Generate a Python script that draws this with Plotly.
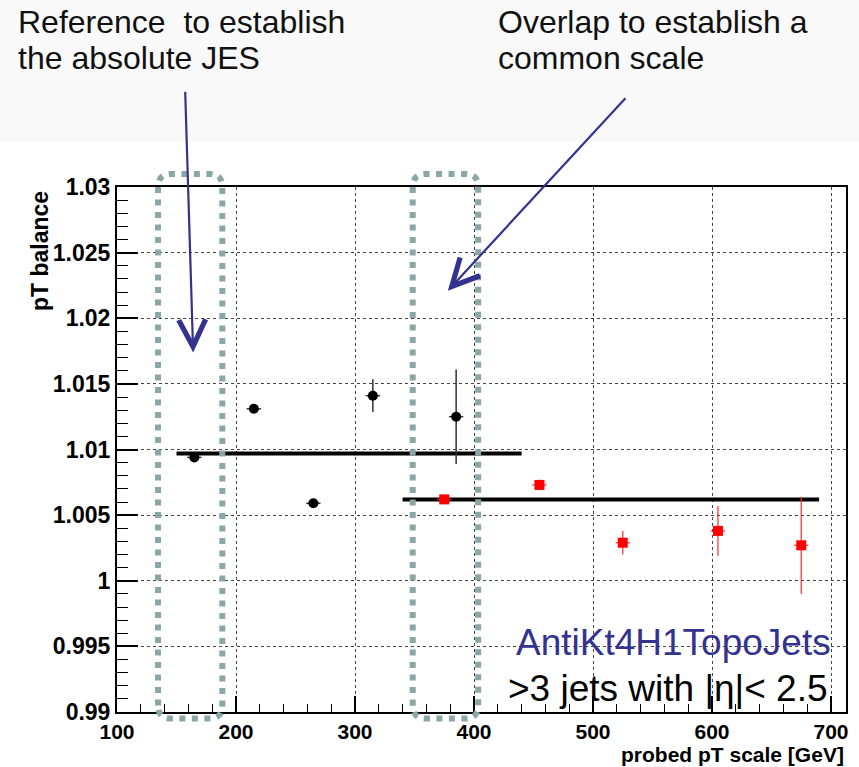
import plotly.graph_objects as go

# ---- data ----
pt_ref = [165, 215, 265, 315, 385]
bal_ref = [1.0094, 1.0131, 1.0059, 1.0141, 1.0125]
err_ref = [0.0002, 0.0002, 0.0003, 0.00125, 0.0036]

pt_ovl = [375, 455, 525, 605, 675]
bal_ovl = [1.0062, 1.0073, 1.0029, 1.0038, 1.0027]
err_ovl = [0.0002, 0.0004, 0.0009, 0.0019, 0.0037]

pt_halfwidth = 6

fit_ref_x = [150, 440]
fit_ref_y = [1.0097, 1.0097]
fit_ovl_x = [340, 690]
fit_ovl_y = [1.0062, 1.0062]

box_ref_x = [134.5, 188.5]
box_ovl_x = [348.5, 403.5]
box_y = [0.9895, 1.031]

y_ticks = [0.99, 0.995, 1.0, 1.005, 1.01, 1.015, 1.02, 1.025, 1.03]
y_ticklabels = ["0.99", "0.995", "1", "1.005", "1.01", "1.015", "1.02", "1.025", "1.03"]
x_ticks = [100, 200, 300, 400, 500, 600, 700]
x_ticklabels = ["100", "200", "300", "400", "500", "600", "700"]

# ---- layout geometry (pixels) ----
W, H = 859, 767
L, R, T, B = 117, 13, 187, 55
PW, PH = W - L - R, H - T - B
XMIN, XMAX = 100, 100 + PW / 1.19
YMIN, YMAX = 0.99, 1.03

def px(p):
    return (p - L) / PW

def py(p):
    return (H - B - p) / PH

def dx(v):  # data x -> paper
    return (v - XMIN) / (XMAX - XMIN)

def dy(v):  # data y -> paper
    return (v - YMIN) / (YMAX - YMIN)

BLUE = "#33338f"
GREY = "#8ba6a6"
FONT = "Liberation Sans"

fig = go.Figure()

fig.add_trace(go.Scatter(
    x=fit_ref_x, y=fit_ref_y, mode="lines",
    line=dict(color="black", width=4), showlegend=False, hoverinfo="skip"))
fig.add_trace(go.Scatter(
    x=fit_ovl_x, y=fit_ovl_y, mode="lines",
    line=dict(color="black", width=4), showlegend=False, hoverinfo="skip"))

fig.add_trace(go.Scatter(
    x=pt_ref, y=bal_ref, mode="markers",
    marker=dict(symbol="circle", size=10, color="black"),
    error_y=dict(type="data", array=err_ref, color="#333333", thickness=1.5, width=0),
    error_x=dict(type="constant", value=pt_halfwidth, color="#333333", thickness=1.5, width=0),
    showlegend=False))
fig.add_trace(go.Scatter(
    x=pt_ovl, y=bal_ovl, mode="markers",
    marker=dict(symbol="square", size=10, color="#ff0000"),
    error_y=dict(type="data", array=err_ovl, color="rgba(255,40,40,0.8)", thickness=1.5, width=0),
    error_x=dict(type="constant", value=pt_halfwidth, color="rgba(255,40,40,0.8)", thickness=1.5, width=0),
    showlegend=False))

# rounded dotted boxes (paper coordinates so they are not clipped)
def rounded_path(x0, x1, y0, y1, rx, ry):
    return (f"M {x0},{y0+ry} L {x0},{y1-ry} Q {x0},{y1} {x0+rx},{y1} "
            f"L {x1-rx},{y1} Q {x1},{y1} {x1},{y1-ry} L {x1},{y0+ry} "
            f"Q {x1},{y0} {x1-rx},{y0} L {x0+rx},{y0} Q {x0},{y0} {x0},{y0+ry} Z")

shapes = [
    dict(type="rect", xref="paper", yref="paper", x0=px(0), x1=px(W), y0=py(141), y1=py(0),
         fillcolor="#f9f9f9", line=dict(width=0), layer="below"),
]
for bx in (box_ref_x, box_ovl_x):
    shapes.append(dict(type="path", xref="paper", yref="paper",
                       path=rounded_path(dx(bx[0]), dx(bx[1]), dy(box_y[0]), dy(box_y[1]),
                                         13 / PW, 13 / PH),
                       line=dict(color=GREY, width=6, dash="6px,6.5px"), layer="above"))

annotations = [
    dict(xref="paper", yref="paper", x=px(16), y=py(22), xanchor="left", yanchor="middle",
         text="Reference\u00a0 to establish", showarrow=False, font=dict(family=FONT, size=32, color="#111111")),
    dict(xref="paper", yref="paper", x=px(16), y=py(58), xanchor="left", yanchor="middle",
         text="the absolute JES", showarrow=False, font=dict(family=FONT, size=32, color="#111111")),
    dict(xref="paper", yref="paper", x=px(496), y=py(22), xanchor="left", yanchor="middle",
         text="Overlap to establish a", showarrow=False, font=dict(family=FONT, size=32, color="#111111")),
    dict(xref="paper", yref="paper", x=px(496), y=py(58), xanchor="left", yanchor="middle",
         text="common scale", showarrow=False, font=dict(family=FONT, size=32, color="#111111")),
    # arrows
    dict(xref="x", yref="y", x=164, y=1.0174, ax=-8, ay=-262, text="", showarrow=True,
         arrowhead=5, arrowsize=2.4, arrowwidth=2.2, arrowcolor=BLUE, standoff=0),
    dict(xref="x", yref="y", x=378, y=1.0221, ax=179, ay=-194, text="", showarrow=True,
         arrowhead=5, arrowsize=2.4, arrowwidth=2.2, arrowcolor=BLUE, standoff=0),
    # labels bottom right
    dict(xref="paper", yref="paper", x=px(833), y=py(642), xanchor="right", yanchor="middle",
         text="AntiKt4H1TopoJets", showarrow=False, font=dict(family=FONT, size=37, color=BLUE)),
    dict(xref="paper", yref="paper", x=px(830), y=py(688), xanchor="right", yanchor="middle",
         text=">3 jets with |\u03b7|< 2.5", showarrow=False, font=dict(family=FONT, size=37, color="black")),
    # axis titles
    dict(xref="paper", yref="paper", x=px(845), y=py(754), xanchor="right", yanchor="middle",
         text="<b>probed pT scale [GeV]</b>", showarrow=False, borderpad=0,
         font=dict(family=FONT, size=21, color="black")),
    dict(xref="paper", yref="paper", x=px(40), y=py(189), xanchor="center", yanchor="top",
         text="<b>pT balance</b>", textangle=-90, showarrow=False, font=dict(family=FONT, size=23, color="black")),
]

fig.update_layout(
    width=W, height=H,
    margin=dict(l=L, r=R, t=T, b=B, pad=0),
    paper_bgcolor="white", plot_bgcolor="white",
    shapes=shapes, annotations=annotations,
    showlegend=False,
)

fig.update_xaxes(
    range=[XMIN, XMAX], tickvals=x_ticks, ticktext=x_ticklabels,
    ticks="inside", ticklen=16, tickwidth=1.5, tickcolor="black",
    minor=dict(dtick=20, ticks="inside", ticklen=8, tickwidth=1, tickcolor="black", showgrid=False),
    showline=True, linecolor="black", linewidth=2, mirror=True,
    showgrid=True, gridcolor="#444444", griddash="dot", gridwidth=1,
    zeroline=False, automargin=False,
    tickfont=dict(family=FONT, size=21, color="black", weight="bold"),
)
fig.update_yaxes(
    range=[YMIN, YMAX], tickvals=y_ticks, ticktext=y_ticklabels,
    ticks="inside", ticklen=21, tickwidth=1.5, tickcolor="black",
    minor=dict(dtick=0.001, ticks="inside", ticklen=11, tickwidth=1, tickcolor="black", showgrid=False),
    showline=True, linecolor="black", linewidth=2, mirror=True,
    showgrid=True, gridcolor="#444444", griddash="dot", gridwidth=1,
    zeroline=False, automargin=False,
    tickfont=dict(family=FONT, size=23, color="black", weight="bold"),
)

fig.write_html("out.html", config={"displayModeBar": False})

# remove the default page margin so the figure sits at the window's top-left corner
with open("out.html", "r", encoding="utf-8") as f:
    html = f.read()
html = html.replace("<body>", '<body style="margin:0;padding:0;">', 1)
html = html.replace("<head>", '<head><style>html,body{margin:0;padding:0;}</style>', 1)
with open("out.html", "w", encoding="utf-8") as f:
    f.write(html)
